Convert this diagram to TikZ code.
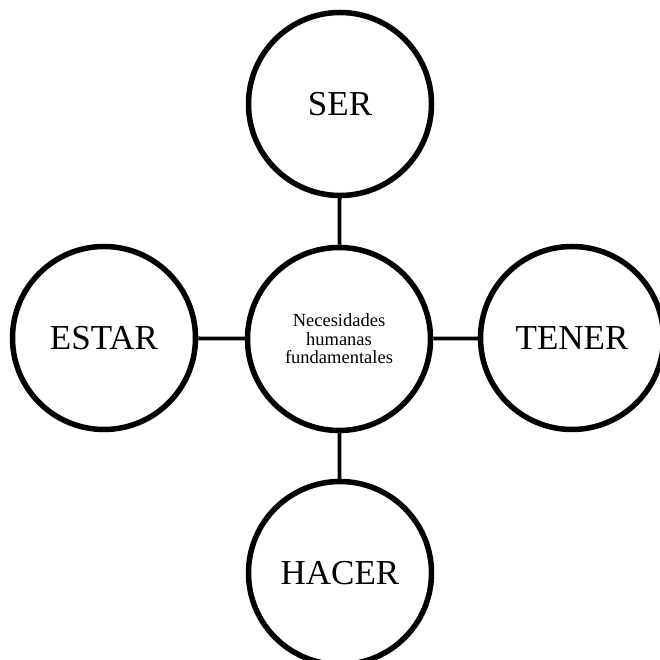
\documentclass[tikz,border=0pt]{standalone}
\usepackage{fontspec}
\setmainfont{Liberation Serif}
\begin{document}
\begin{tikzpicture}[x=1pt,y=1pt,
  bubble/.style={circle,draw=black,line width=5.5pt,fill=white,minimum size=183pt,inner sep=0pt,align=center},
  big/.style={font=\fontsize{35}{40}\selectfont},
  small/.style={font=\fontsize{18.5}{18.5}\selectfont},
  link/.style={line width=3.8pt}]
\useasboundingbox (0,0) rectangle (659,660);
\fill[white] (0,0) rectangle (659,660);
\node[bubble,small] (c) at (339,321) {Necesidades\\humanas\\fundamentales};
\node[bubble,big] (ser) at (340,556) {SER};
\node[bubble,big] (estar) at (104,322) {ESTAR};
\node[bubble,big] (tener) at (572,322) {TENER};
\node[bubble,big] (hacer) at (340,87) {HACER};
\draw[link] (c) -- (ser);
\draw[link] (c) -- (estar);
\draw[link] (c) -- (tener);
\draw[link] (c) -- (hacer);
\end{tikzpicture}
\end{document}
